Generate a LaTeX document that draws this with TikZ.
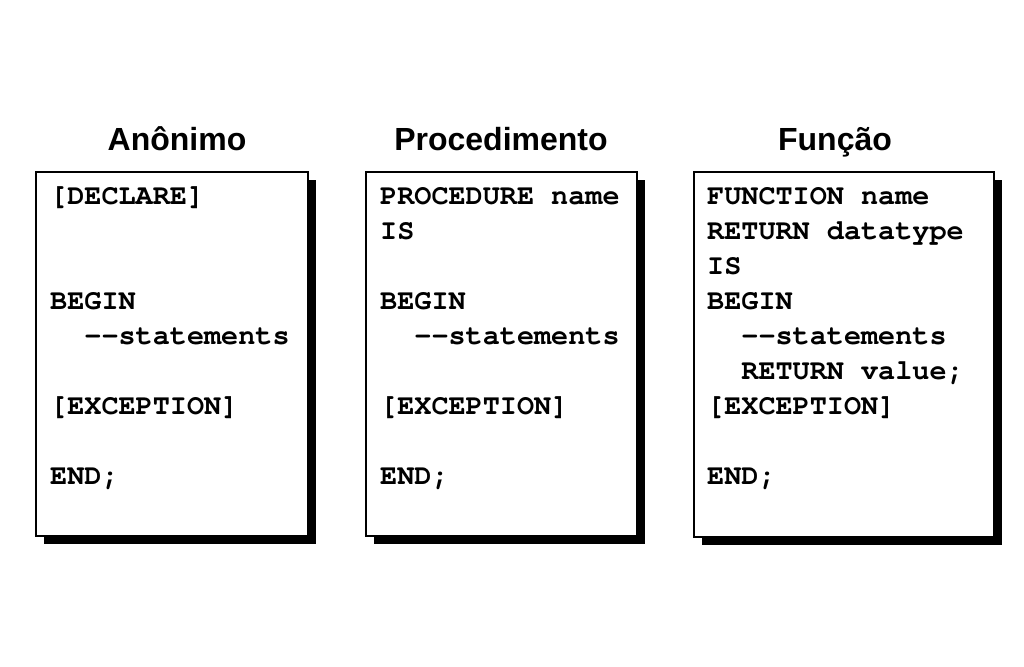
\documentclass[tikz,border=0pt]{standalone}
\usepackage{fontspec}
\setmainfont{Liberation Sans}
\setmonofont{TeX Gyre Cursor}
\usetikzlibrary{shadows}
\newcommand{\dd}{-\kern0pt-}
\begin{document}
\begin{tikzpicture}[x=1pt,y=-1pt,
  box/.style={draw=black, line width=2.2pt, fill=white, inner sep=0pt, anchor=north west,
    drop shadow={shadow xshift=8pt, shadow yshift=-8pt, fill=black, opacity=1}},
  title/.style={font=\bfseries\fontsize{32}{36}\selectfont, anchor=base, inner sep=0pt},
  code/.style={font=\ttfamily\bfseries\fontsize{28.5}{34}\selectfont, anchor=base west, inner sep=0pt}]
\fill[white] (0,0) rectangle (1024,666);
\useasboundingbox (0,0) rectangle (1024,666);
% boxes
\node[box, minimum width=272pt, minimum height=364pt] (b1) at (35,171) {};
\node[box, minimum width=271pt, minimum height=364pt] (b2) at (365,171) {};
\node[box, minimum width=300pt, minimum height=365pt] (b3) at (693,171) {};
% titles
\node[title] (t1) at (177,150) {Anônimo};
\node[title] (t2) at (501,150) {Procedimento};
\node[title] (t3) at (835,150) {Função};
% box 1
\node[code] (a1) at (50,204) {[DECLARE]};
\node[code] (a4) at (50,309) {BEGIN};
\node[code] (a5) at (84.2,344) {\dd statements};
\node[code] (a7) at (50,414) {[EXCEPTION]};
\node[code] (a9) at (50,484) {END;};
% box 2
\node[code] (p1) at (380,204) {PROCEDURE name};
\node[code] (p2) at (380,239) {IS};
\node[code] (p4) at (380,309) {BEGIN};
\node[code] (p5) at (414.2,344) {\dd statements};
\node[code] (p7) at (380,414) {[EXCEPTION]};
\node[code] (p9) at (380,484) {END;};
% box 3
\node[code] (f1) at (707,204) {FUNCTION name};
\node[code] (f2) at (707,239) {RETURN datatype};
\node[code] (f3) at (707,274) {IS};
\node[code] (f4) at (707,309) {BEGIN};
\node[code] (f5) at (741.2,344) {\dd statements};
\node[code] (f6) at (741.2,379) {RETURN value;};
\node[code] (f7) at (707,414) {[EXCEPTION]};
\node[code] (f9) at (707,484) {END;};
\end{tikzpicture}
\end{document}
